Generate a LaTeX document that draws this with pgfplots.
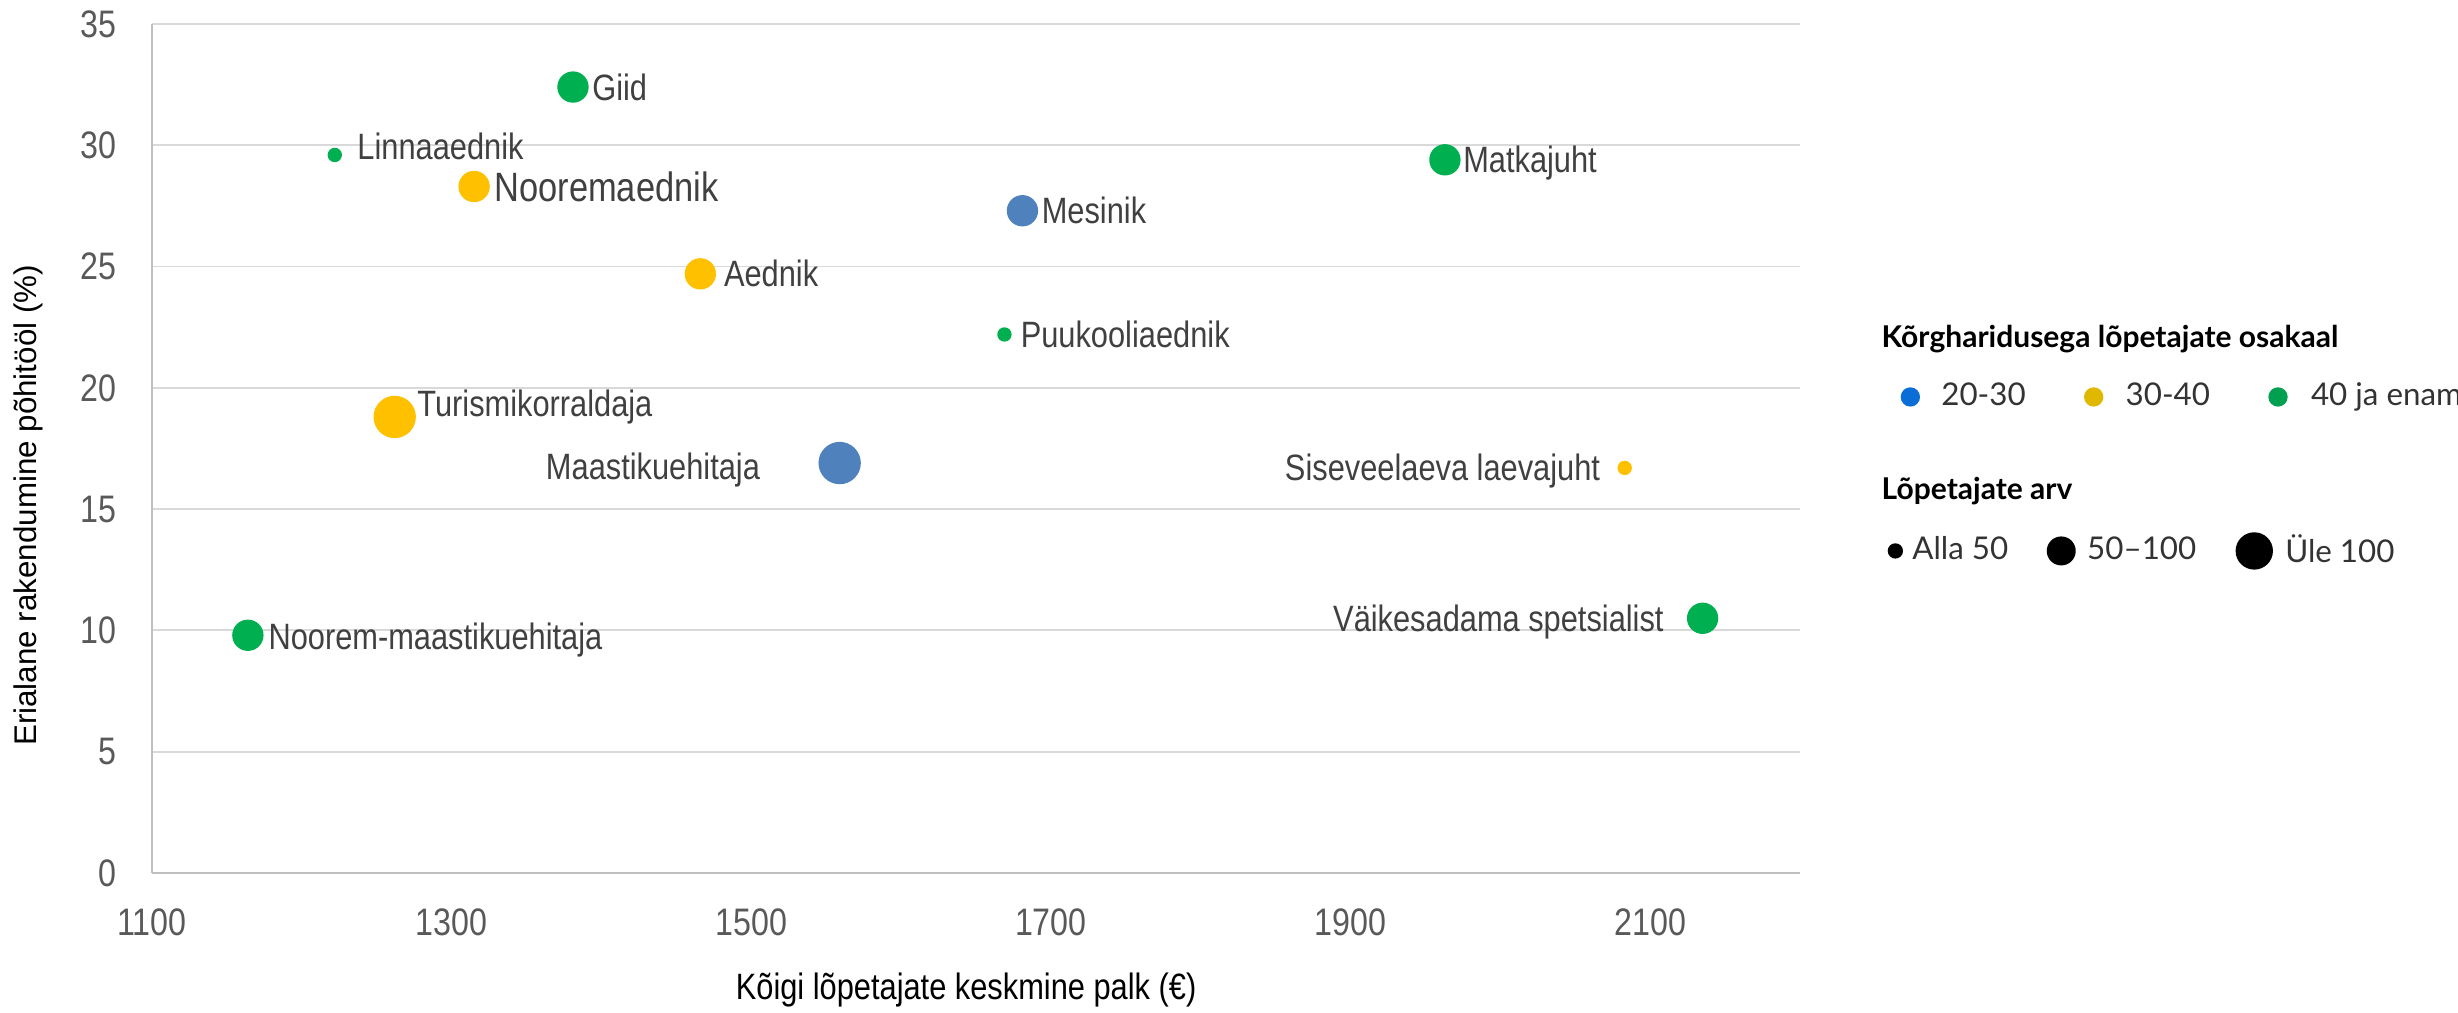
\documentclass[border=0pt]{standalone}
\usepackage{pgfplots}
\pgfplotsset{compat=1.18}
\usepackage{fontspec}
\setmainfont{Liberation Sans}
\newfontfamily\narrow[FakeStretch=0.84]{Liberation Sans}
\newfontfamily\legfont{Lato}
\definecolor{cblue}{HTML}{4F81BD}
\definecolor{cyellow}{HTML}{FFC000}
\definecolor{cgreen}{HTML}{00B050}
\definecolor{lblue}{HTML}{0A6ED6}
\definecolor{lyellow}{HTML}{E0B800}
\definecolor{lgreen}{HTML}{00A050}
\definecolor{labgray}{HTML}{404040}
\definecolor{tickgray}{HTML}{595959}
\definecolor{gridgray}{HTML}{D9D9D9}
\definecolor{axisgray}{HTML}{BFBFBF}
\definecolor{legtext}{HTML}{333333}
\tikzset{
  labR/.style={font=\narrow\fontsize{11}{13}\selectfont, text=labgray, inner sep=0pt, anchor=base west, yshift=-3.9pt},
  labL/.style={font=\narrow\fontsize{11}{13}\selectfont, text=labgray, inner sep=0pt, anchor=base east, yshift=-3.9pt},
}
\begin{document}
\begin{tikzpicture}
\useasboundingbox (-45.6pt,-42pt) rectangle (691.8pt,261.9pt);
\begin{axis}[
  at={(0pt,0pt)}, anchor=south west,
  scale only axis, width=494.4pt, height=254.7pt,
  xmin=1100, xmax=2200, ymin=0, ymax=35,
  xtick={1100,1300,1500,1700,1900,2100},
  ytick={0,5,10,15,20,25,30,35},
  ymajorgrids, grid style={draw=gridgray, line width=0.55pt},
  axis x line*=bottom, axis y line*=left,
  axis line style={draw=axisgray, line width=0.6pt, -},
  major tick length=0pt,
  /pgf/number format/assume math mode=true,
  /pgf/number format/1000 sep={},
  tick label style={font=\narrow\fontsize{11.5}{13}\selectfont, text=tickgray},
  xticklabel style={anchor=center, yshift=-14.7pt},
  yticklabel style={anchor=east, inner sep=0pt, xshift=-10.4pt},
  xlabel={Kõigi lõpetajate keskmine palk (€)},
  ylabel={Erialane rakendumine põhitööl (\%)},
  xlabel style={at={(axis description cs:0.494,-0.138)}, anchor=center, font=\narrow\fontsize{11}{13}\selectfont, text=black},
  ylabel style={at={(axis description cs:-0.0752,0.433)}, anchor=center, font=\fontsize{9.4}{11}\selectfont, text=black},
  clip=false,
  legend columns=3,
  legend style={at={(axis description cs:1.0607,0.5607)}, anchor=west, draw=none, fill=none, inner sep=0pt, column sep=0pt, row sep=0pt,
    font=\legfont\fontsize{9.4}{11}\selectfont, text=legtext, nodes={inner xsep=0pt, inner ysep=1pt}},
]
% green
\addplot[forget plot, only marks, mark=*, mark size=4.5pt, color=cgreen, mark options={draw=none, fill=cgreen}] coordinates {
 (1381,32.4) (1963,29.4) (2135,10.5) (1164,9.8)};
\addplot[forget plot, only marks, mark=*, mark size=1.95pt, color=cgreen, mark options={draw=none, fill=cgreen}] coordinates {
 (1222,29.6) (1669,22.2)};
% yellow
\addplot[forget plot, only marks, mark=*, mark size=4.5pt, color=cyellow, mark options={draw=none, fill=cyellow}] coordinates {
 (1315,28.3) (1466,24.7)};
\addplot[forget plot, only marks, mark=*, mark size=6.15pt, color=cyellow, mark options={draw=none, fill=cyellow}] coordinates {
 (1262,18.8)};
\addplot[forget plot, only marks, mark=*, mark size=1.95pt, color=cyellow, mark options={draw=none, fill=cyellow}] coordinates {
 (2083,16.7)};
% blue
\addplot[forget plot, only marks, mark=*, mark size=4.5pt, color=cblue, mark options={draw=none, fill=cblue}] coordinates {
 (1681,27.3)};
\addplot[forget plot, only marks, mark=*, mark size=6.15pt, color=cblue, mark options={draw=none, fill=cblue}] coordinates {
 (1559,16.9)};

\node[labR, xshift=5.6pt] at (1381,32.4) {Giid};
\node[labR, xshift=6.6pt, yshift=2.4pt] at (1222,29.6) {Linnaaednik};
\node[labR, xshift=5.9pt, font=\narrow\fontsize{12.3}{14}\selectfont, yshift=-0.5pt] at (1315,28.3) {Nooremaednik};
\node[labR, xshift=6.9pt] at (1466,24.7) {Aednik};
\node[labR, xshift=5.6pt] at (1681,27.3) {Mesinik};
\node[labR, xshift=5.3pt] at (1963,29.4) {Matkajuht};
\node[labR, xshift=4.7pt] at (1669,22.2) {Puukooliaednik};
\node[labR, xshift=6.6pt, yshift=3.9pt] at (1262,18.8) {Turismikorraldaja};
\node[labL, xshift=-23.7pt, yshift=-0.9pt] at (1559,16.9) {Maastikuehitaja};
\node[labL, xshift=-7.2pt] at (2083,16.7) {Siseveelaeva laevajuht};
\node[labL, xshift=-11.5pt] at (2135,10.5) {Väikesadama spetsialist};
\node[labR, xshift=6pt, yshift=-0.5pt] at (1164,9.8) {Noorem-maastikuehitaja};

\addlegendimage{legend image code/.code={\path[draw=none,fill=none] (0pt,0pt) -- (9.3pt,0pt); \fill[lblue,draw=none] (0pt,0pt) circle (2.9pt);}}
\addlegendentry{20-30}
\addlegendimage{legend image code/.code={\path[draw=none,fill=none] (-20.4pt,0pt) -- (9.6pt,0pt); \fill[lyellow,draw=none] (0pt,0pt) circle (2.9pt);}}
\addlegendentry{30-40}
\addlegendimage{legend image code/.code={\path[draw=none,fill=none] (-20.4pt,0pt) -- (9.9pt,0pt); \fill[lgreen,draw=none] (0pt,0pt) circle (2.9pt);}}
\addlegendentry{40 ja enam}

\node[anchor=west, inner sep=0pt, font=\legfont\bfseries\fontsize{9}{11}\selectfont, text=black] at (axis description cs:1.0492,0.629) {Kõrgharidusega lõpetajate osakaal};
\node[anchor=west, inner sep=0pt, font=\legfont\bfseries\fontsize{9}{11}\selectfont, text=black] at (axis description cs:1.0492,0.45) {Lõpetajate arv};
\end{axis}
\begin{axis}[
  at={(0pt,0pt)}, anchor=south west,
  scale only axis, width=494.4pt, height=254.7pt,
  hide axis, xmin=0, xmax=1, ymin=0, ymax=1,
  legend columns=3,
  legend style={at={(axis description cs:1.0528,0.3793)}, anchor=west, draw=none, fill=none, inner sep=0pt, column sep=0pt, row sep=0pt,
    font=\legfont\fontsize{9.4}{11}\selectfont, text=legtext, nodes={inner xsep=0pt, inner ysep=1pt}},
]
\addlegendimage{legend image code/.code={\path[draw=none,fill=none] (0pt,0pt) -- (5.1pt,0pt); \fill[black,draw=none] (0pt,0pt) circle (2.3pt);}}
\addlegendentry{Alla 50}
\addlegendimage{legend image code/.code={\path[draw=none,fill=none] (-15.9pt,0pt) -- (7.8pt,0pt); \fill[black,draw=none] (0pt,0pt) circle (4.35pt);}}
\addlegendentry{50–100}
\addlegendimage{legend image code/.code={\path[draw=none,fill=none] (-17.4pt,0pt) -- (9.3pt,0pt); \fill[black,draw=none] (0pt,0pt) circle (5.6pt);}}
\addlegendentry{Üle 100}
\end{axis}
\end{tikzpicture}
\end{document}
